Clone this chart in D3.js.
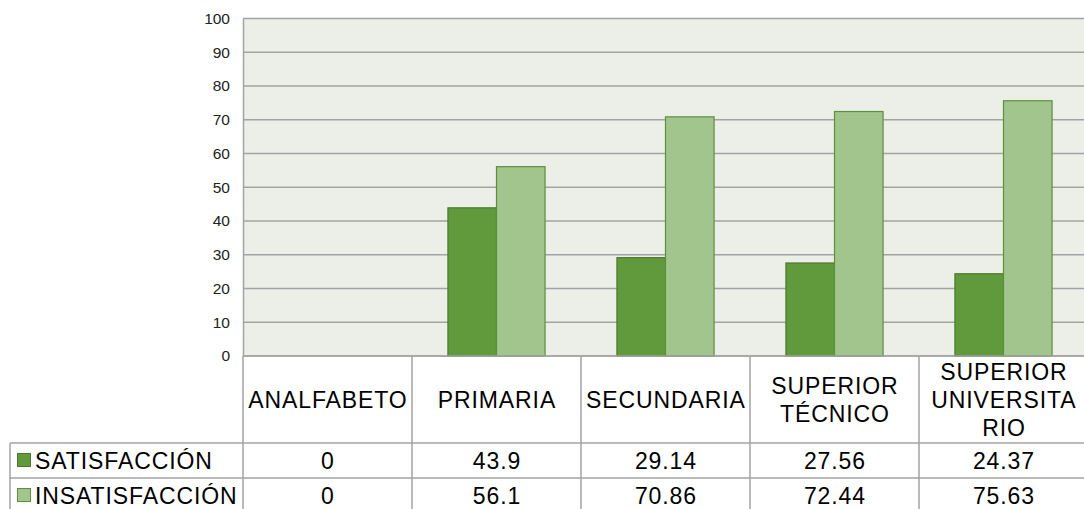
<!DOCTYPE html>
<html>
<head>
<meta charset="utf-8">
<script src="https://cdn.jsdelivr.net/npm/d3@7"></script>
<style>
  body { margin: 0; background: #fff; }
  svg { display: block; font-family: "Liberation Sans", Arial, sans-serif; }
</style>
</head>
<body>
<div id="chart"></div>
<script>
// data
const categories = ['ANALFABETO', 'PRIMARIA', 'SECUNDARIA', 'SUPERIOR TÉCNICO', 'SUPERIOR UNIVERSITARIO'];
const categoryLines = [['ANALFABETO'], ['PRIMARIA'], ['SECUNDARIA'], ['SUPERIOR', 'TÉCNICO'], ['SUPERIOR', 'UNIVERSITA', 'RIO']];
const seriesNames = ['SATISFACCIÓN', 'INSATISFACCIÓN'];
const satisfaccion = [0, 43.9, 29.14, 27.56, 24.37];
const insatisfaccion = [0, 56.1, 70.86, 72.44, 75.63];
const valueLabels = [['0', '43.9', '29.14', '27.56', '24.37'], ['0', '56.1', '70.86', '72.44', '75.63']];
const yTicks = [0, 10, 20, 30, 40, 50, 60, 70, 80, 90, 100];

const fills = ['#619a3c', '#a2c58e'];
const strokes = ['#4b7a2e', '#5e8f3f'];
const lineColor = '#a3a3a3';

const W = 1084, H = 509;
const plot = { left: 243, right: 1088, top: 18.5, bottom: 356 };
const tableLeft = 10;
const headerBottom = 443, rowH = 35;
const fs = 23, ls = 0.9;

const svg = d3.select('#chart').append('svg')
  .attr('width', W).attr('height', H);

const x0 = d3.scaleBand().domain(categories).range([plot.left, plot.right]);
const x1 = d3.scaleBand().domain(seriesNames).range([0, x0.bandwidth()]).paddingOuter(0.74);
const y = d3.scaleLinear().domain([0, 100]).range([plot.bottom, plot.top]);

// plot background
svg.append('rect')
  .attr('x', plot.left).attr('y', plot.top)
  .attr('width', plot.right - plot.left).attr('height', plot.bottom - plot.top)
  .attr('fill', '#ebefe7');

// gridlines
svg.append('g').selectAll('line')
  .data(yTicks)
  .enter().append('line')
  .attr('x1', plot.left).attr('x2', plot.right)
  .attr('y1', d => y(d)).attr('y2', d => y(d))
  .attr('stroke', lineColor).attr('stroke-width', 1.5);

// y axis labels
const yAxis = svg.append('g')
  .attr('transform', `translate(${plot.left},0)`)
  .call(d3.axisLeft(y).tickValues(yTicks).tickSize(0).tickPadding(13));
yAxis.select('.domain').attr('stroke', lineColor).attr('stroke-width', 1.5);
yAxis.selectAll('text').attr('font-size', 15.5).attr('fill', '#222')
  .attr('font-family', '"Liberation Sans", Arial, sans-serif');

// bars
const seriesData = [satisfaccion, insatisfaccion];
seriesData.forEach((vals, si) => {
  svg.append('g').selectAll('rect')
    .data(vals)
    .enter().append('rect')
    .attr('x', (d, i) => x0(categories[i]) + x1(seriesNames[si]))
    .attr('y', d => y(d))
    .attr('width', x1.bandwidth())
    .attr('height', d => y(0) - y(d))
    .attr('fill', fills[si])
    .attr('stroke', d => d > 0 ? strokes[si] : 'none')
    .attr('stroke-width', 1.2);
});

// data table
const table = svg.append('g');
const tableLine = (x1_, y1_, x2_, y2_) => table.append('line')
  .attr('x1', x1_).attr('y1', y1_).attr('x2', x2_).attr('y2', y2_)
  .attr('stroke', lineColor).attr('stroke-width', 1.5);

tableLine(plot.left, plot.bottom, plot.right, plot.bottom);
for (let r = 0; r <= 2; r++) {
  tableLine(tableLeft, headerBottom + r * rowH, plot.right, headerBottom + r * rowH);
}
tableLine(tableLeft, headerBottom, tableLeft, H);
categories.forEach(c => {
  tableLine(x0(c), plot.bottom, x0(c), H);
});
tableLine(plot.right, plot.bottom, plot.right, H);

// category headers
const lineH = 28;
categories.forEach((c, i) => {
  const lines = categoryLines[i];
  const cy = (plot.bottom + headerBottom) / 2;
  const cx = x0(c) + x0.bandwidth() / 2 + ls / 2;
  const t = table.append('text')
    .attr('text-anchor', 'middle')
    .attr('font-size', fs)
    .attr('letter-spacing', ls);
  lines.forEach((ln, k) => {
    t.append('tspan')
      .attr('x', cx)
      .attr('y', cy + (k - (lines.length - 1) / 2) * lineH)
      .attr('dy', '0.36em')
      .text(ln);
  });
});

// series rows
seriesNames.forEach((s, si) => {
  const cy = headerBottom + si * rowH + rowH / 2;
  table.append('rect')
    .attr('x', 17.5).attr('y', cy - 7)
    .attr('width', 13).attr('height', 13)
    .attr('fill', fills[si]).attr('stroke', strokes[si]).attr('stroke-width', 1);
  table.append('text')
    .attr('x', 35).attr('y', cy).attr('dy', '0.36em')
    .attr('font-size', fs)
    .attr('letter-spacing', ls)
    .text(s);
  valueLabels[si].forEach((v, i) => {
    table.append('text')
      .attr('x', x0(categories[i]) + x0.bandwidth() / 2 + ls / 2)
      .attr('y', cy).attr('dy', '0.36em')
      .attr('text-anchor', 'middle')
      .attr('font-size', fs)
      .attr('letter-spacing', ls)
      .text(v);
  });
});
</script>
</body>
</html>
